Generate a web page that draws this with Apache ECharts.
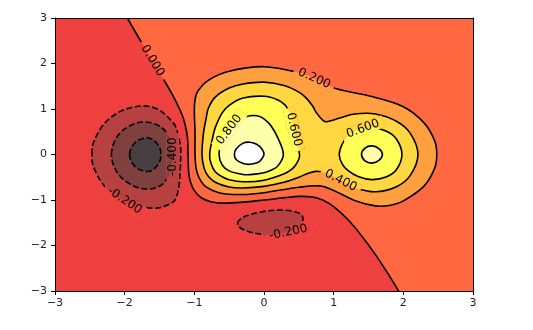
<!DOCTYPE html>
<html>
<head>
<meta charset="utf-8">
<script src="https://cdn.jsdelivr.net/npm/echarts@6/dist/echarts.min.js"></script>
<style>
  html, body { margin: 0; padding: 0; background: #fff; }
  #main { width: 533px; height: 330px; }
</style>
</head>
<body>
<div id="main"></div>
<script>
// tick values on both axes
var xTicks = [-3, -2, -1, 0, 1, 2, 3];
var yTicks = [-3, -2, -1, 0, 1, 2, 3];

// contour lines, [x, y] in data units
// level 0 runs from the top edge to the bottom edge
var zeroLine = [[-2.0, 3.1], [-1.9, 2.836], [-1.8, 2.571], [-1.6, 2.055], [-1.4, 1.544], [-1.3, 1.273],
  [-1.2, 0.961], [-1.15, 0.758], [-1.1, 0.394], [-1.09, 0], [-1.08, -0.414], [-1.05, -0.629], [-1.0, -0.794],
  [-0.9, -0.951], [-0.75, -1.044], [-0.6, -1.069], [-0.3, -1.047], [0, -1.0], [0.3, -0.948], [0.5, -0.921],
  [0.7, -0.935], [0.85, -1.006], [1.0, -1.145], [1.2, -1.424], [1.4, -1.784], [1.6, -2.201], [1.8, -2.668],
  [1.97, -3.097]];
// what lies left of the zero line, continued past the frame
var zeroSide = [[-3.6, 3.6], [-2.17, 3.6]].concat(zeroLine, [[2.17, -3.6], [-3.6, -3.6]]);

var neg02Left = [[-2.47, 0], [-2.45, 0.255], [-2.3, 0.665], [-2.1, 0.915], [-1.9, 1.035], [-1.7, 1.065],
  [-1.5, 0.975], [-1.3, 0.69], [-1.25, 0.535], [-1.2, 0.2], [-1.195, 0], [-1.2, -0.28], [-1.22, -0.69],
  [-1.25, -0.9], [-1.3, -1.04], [-1.5, -1.17], [-1.7, -1.165], [-1.9, -1.09], [-2.1, -0.94], [-2.3, -0.675],
  [-2.45, -0.26]];
var neg02Low = [[-0.38, -1.52], [-0.3, -1.38], [0, -1.25], [0.3, -1.225], [0.5, -1.285], [0.56, -1.4],
  [0.5, -1.6], [0.3, -1.72], [0, -1.76], [-0.3, -1.65]];
var neg04 = [[-2.19, 0], [-2.1, 0.41], [-1.9, 0.65], [-1.7, 0.715], [-1.5, 0.625], [-1.4, 0.48], [-1.35, 0.34],
  [-1.31, 0], [-1.35, -0.38], [-1.4, -0.55], [-1.5, -0.7], [-1.7, -0.758], [-1.9, -0.67], [-2.1, -0.41]];
var neg06 = [[-1.93, 0], [-1.85, 0.265], [-1.7, 0.365], [-1.6, 0.33], [-1.5, 0.16], [-1.48, 0], [-1.5, -0.16],
  [-1.6, -0.343], [-1.7, -0.37], [-1.85, -0.268]];

var pos02 = [[-0.99, 0], [-0.99, 0.5], [-1.0, 0.95], [-0.99, 1.2], [-0.95, 1.39], [-0.8, 1.63], [-0.5, 1.83],
  [0, 1.93], [0.5, 1.8], [0.75, 1.65], [1.0, 1.46], [1.5, 1.29], [2.0, 1.05], [2.3, 0.69], [2.45, 0.3],
  [2.48, 0], [2.45, -0.3], [2.3, -0.69], [2.0, -1.02], [1.8, -1.12], [1.6, -1.13], [1.3, -1.01], [1.0, -0.79],
  [0.8, -0.69], [0.5, -0.72], [0, -0.84], [-0.3, -0.88], [-0.62, -0.85], [-0.84, -0.7], [-0.935, -0.5],
  [-0.975, -0.3]];
var pos04 = [[-0.89, 0], [-0.87, 0.45], [-0.83, 0.8], [-0.8, 1.01], [-0.7, 1.26], [-0.5, 1.46], [-0.3, 1.55],
  [0, 1.59], [0.3, 1.51], [0.5, 1.37], [0.6, 1.25], [0.7, 1.06], [0.75, 0.92], [0.85, 0.745], [0.9, 0.72],
  [1.0, 0.76], [1.1, 0.81], [1.3, 0.89], [1.6, 0.89], [1.9, 0.73], [2.1, 0.465], [2.21, 0], [2.1, -0.46],
  [1.9, -0.71], [1.6, -0.82], [1.3, -0.73], [1.1, -0.575], [1.0, -0.49], [0.9, -0.415], [0.75, -0.37],
  [0.6, -0.435], [0.5, -0.5], [0.3, -0.605], [0, -0.70], [-0.3, -0.735], [-0.5, -0.715], [-0.7, -0.61],
  [-0.8, -0.48], [-0.86, -0.3]];
var pos06Left = [[-0.78, 0], [-0.74, 0.35], [-0.7, 0.59], [-0.6, 0.915], [-0.5, 1.08], [-0.3, 1.24], [0, 1.28],
  [0.2, 1.2], [0.3, 1.09], [0.35, 0.97], [0.38, 0.85], [0.4, 0.74], [0.45, 0.39], [0.485, 0.2], [0.51, 0],
  [0.5, -0.1], [0.45, -0.24], [0.4, -0.32], [0.3, -0.415], [0, -0.565], [-0.3, -0.6], [-0.5, -0.555],
  [-0.6, -0.49], [-0.7, -0.38], [-0.76, -0.2]];
var pos06Right = [[1.08, 0], [1.12, 0.22], [1.2, 0.39], [1.35, 0.54], [1.55, 0.59], [1.75, 0.515], [1.9, 0.34],
  [1.98, 0], [1.9, -0.335], [1.75, -0.497], [1.55, -0.553], [1.35, -0.485], [1.2, -0.345], [1.12, -0.2]];
var pos08Left = [[-0.645, 0], [-0.6, 0.29], [-0.5, 0.545], [-0.4, 0.7], [-0.3, 0.8], [-0.2, 0.85], [-0.1, 0.85],
  [0, 0.785], [0.1, 0.63], [0.2, 0.36], [0.278, 0], [0.2, -0.25], [0.1, -0.345], [0, -0.4], [-0.2, -0.443],
  [-0.3, -0.44], [-0.5, -0.36], [-0.6, -0.23]];
var pos08Right = [[1.4, 0], [1.45, 0.14], [1.55, 0.19], [1.65, 0.13], [1.7, 0], [1.65, -0.13], [1.55, -0.19],
  [1.45, -0.14]];
var pos10 = [[-0.425, 0], [-0.4, 0.12], [-0.3, 0.25], [-0.2, 0.27], [-0.1, 0.22], [-0.03, 0.12], [0, 0],
  [-0.05, -0.13], [-0.1, -0.18], [-0.2, -0.215], [-0.3, -0.2], [-0.4, -0.11]];

// inline contour labels
var labelText = ['0.000', '0.200', '0.800', '0.600', '0.600', '0.400', '-0.400', '-0.200', '-0.200'];
var labelAt = [[-1.6, 2.06], [0.72, 1.67], [-0.5, 0.545], [0.43, 0.55], [1.42, 0.565], [1.1, -0.575],
  [-1.31, -0.05], [-2.0, -1.015], [0.35, -1.71]];
var labelOn = [zeroLine, pos02, pos08Left, pos06Left, pos06Right, pos04, neg04, neg02Left, neg02Low];

// filled bands (hot colormap, alpha .75), painted low to high
var bgColor = '#ff6840';
var bands = [
  { pts: zeroSide, color: '#ef4040' },
  { pts: neg02Left, color: '#b74040' },
  { pts: neg02Low, color: '#b74040' },
  { pts: neg04, color: '#7f4040' },
  { pts: neg06, color: '#484040' },
  { pts: pos02, color: '#ff9f40' },
  { pts: pos04, color: '#ffd740' },
  { pts: pos06Left, color: '#ffff58' },
  { pts: pos06Right, color: '#ffff58' },
  { pts: pos08Left, color: '#ffffab' },
  { pts: pos08Right, color: '#ffffab' },
  { pts: pos10, color: '#ffffff' }
];
var lines = [
  { pts: zeroLine, open: true },
  { pts: neg02Left, dashed: true },
  { pts: neg02Low, dashed: true },
  { pts: neg04, dashed: true },
  { pts: neg06, dashed: true },
  { pts: pos02 }, { pts: pos04 }, { pts: pos06Left }, { pts: pos06Right },
  { pts: pos08Left }, { pts: pos08Right }, { pts: pos10 }
];

var SMOOTH = 0.35;
var FONT = '12px "DejaVu Sans"';
var measure = document.createElement('canvas').getContext('2d');
measure.font = FONT;

function renderItem(params, api) {
  var cs = params.coordSys;
  function px(pts) {
    return pts.map(function (p) { return api.coord(p); });
  }
  function fills() {
    var out = [{ type: 'rect', shape: { x: cs.x, y: cs.y, width: cs.width, height: cs.height }, style: { fill: bgColor } }];
    bands.forEach(function (b) {
      out.push({ type: 'polygon', shape: { points: px(b.pts), smooth: SMOOTH }, style: { fill: b.color } });
    });
    return out;
  }
  var children = fills();

  lines.forEach(function (l) {
    children.push({
      type: l.open ? 'polyline' : 'polygon',
      shape: { points: px(l.pts), smooth: SMOOTH },
      style: { fill: 'none', stroke: '#000', lineWidth: 1.6, lineDash: l.dashed ? [6, 2.7] : null }
    });
  });

  labelText.forEach(function (t, i) {
    var pts = labelOn[i], at = labelAt[i], n = pts.length;
    var best = 0, bd = Infinity;
    pts.forEach(function (p, k) {
      var d = (p[0] - at[0]) * (p[0] - at[0]) + (p[1] - at[1]) * (p[1] - at[1]);
      if (d < bd) { bd = d; best = k; }
    });
    var open = pts === zeroLine;
    var a = open ? pts[Math.max(best - 1, 0)] : pts[(best - 1 + n) % n];
    var b = open ? pts[Math.min(best + 1, n - 1)] : pts[(best + 1) % n];
    var pa = api.coord(a), pb = api.coord(b);
    var ang = Math.atan2(-(pb[1] - pa[1]), pb[0] - pa[0]);
    if (ang > Math.PI / 2) ang -= Math.PI;
    if (ang <= -Math.PI / 2) ang += Math.PI;

    var c = api.coord(at);
    var hw = (measure.measureText(t).width + 9) / 2, hh = 6;
    var ux = Math.cos(ang), uy = -Math.sin(ang), vx = Math.sin(ang), vy = Math.cos(ang);
    var box = [
      [c[0] + hw * ux + hh * vx, c[1] + hw * uy + hh * vy],
      [c[0] + hw * ux - hh * vx, c[1] + hw * uy - hh * vy],
      [c[0] - hw * ux - hh * vx, c[1] - hw * uy - hh * vy],
      [c[0] - hw * ux + hh * vx, c[1] - hw * uy + hh * vy]
    ];
    // paint the bands again under the label so the line breaks there
    children.push({ type: 'group', clipPath: { type: 'polygon', shape: { points: box } }, children: fills() });
    children.push({
      type: 'text', x: c[0], y: c[1], rotation: ang,
      style: { text: t, font: FONT, fill: '#000', align: 'center', verticalAlign: 'middle' }
    });
  });

  return {
    type: 'group',
    clipPath: { type: 'rect', shape: { x: cs.x, y: cs.y, width: cs.width, height: cs.height } },
    children: children
  };
}

function minus(v) { return String(v).replace('-', '\u2212'); }

var axisLine = { show: true, onZero: false, lineStyle: { color: '#000', width: 1 } };
var chart = echarts.init(document.getElementById('main'));
chart.setOption({
  animation: false,
  grid: { left: 55, top: 18, width: 418, height: 273 },
  xAxis: [{
    type: 'value', position: 'bottom', min: xTicks[0], max: xTicks[xTicks.length - 1], interval: xTicks[1] - xTicks[0],
    axisLine: axisLine,
    axisTick: { show: true, inside: false, length: 4, lineStyle: { color: '#000' } },
    axisLabel: { color: '#222', fontFamily: 'DejaVu Sans', fontSize: 11, margin: 7, formatter: minus },
    splitLine: { show: false }, z: 10
  }, {
    type: 'value', position: 'top', min: xTicks[0], max: xTicks[xTicks.length - 1],
    axisLine: axisLine, axisTick: { show: false }, axisLabel: { show: false }, splitLine: { show: false }, z: 10
  }],
  yAxis: [{
    type: 'value', position: 'left', min: yTicks[0], max: yTicks[yTicks.length - 1], interval: yTicks[1] - yTicks[0],
    axisLine: axisLine,
    axisTick: { show: true, inside: false, length: 4, lineStyle: { color: '#000' } },
    axisLabel: { color: '#222', fontFamily: 'DejaVu Sans', fontSize: 11, margin: 8, formatter: minus },
    splitLine: { show: false }, z: 10
  }, {
    type: 'value', position: 'right', min: yTicks[0], max: yTicks[yTicks.length - 1],
    axisLine: axisLine, axisTick: { show: false }, axisLabel: { show: false }, splitLine: { show: false }, z: 10
  }],
  series: [{
    type: 'custom',
    coordinateSystem: 'cartesian2d',
    renderItem: renderItem,
    data: [[0, 0]],
    silent: true,
    z: 1
  }]
});
</script>
</body>
</html>
